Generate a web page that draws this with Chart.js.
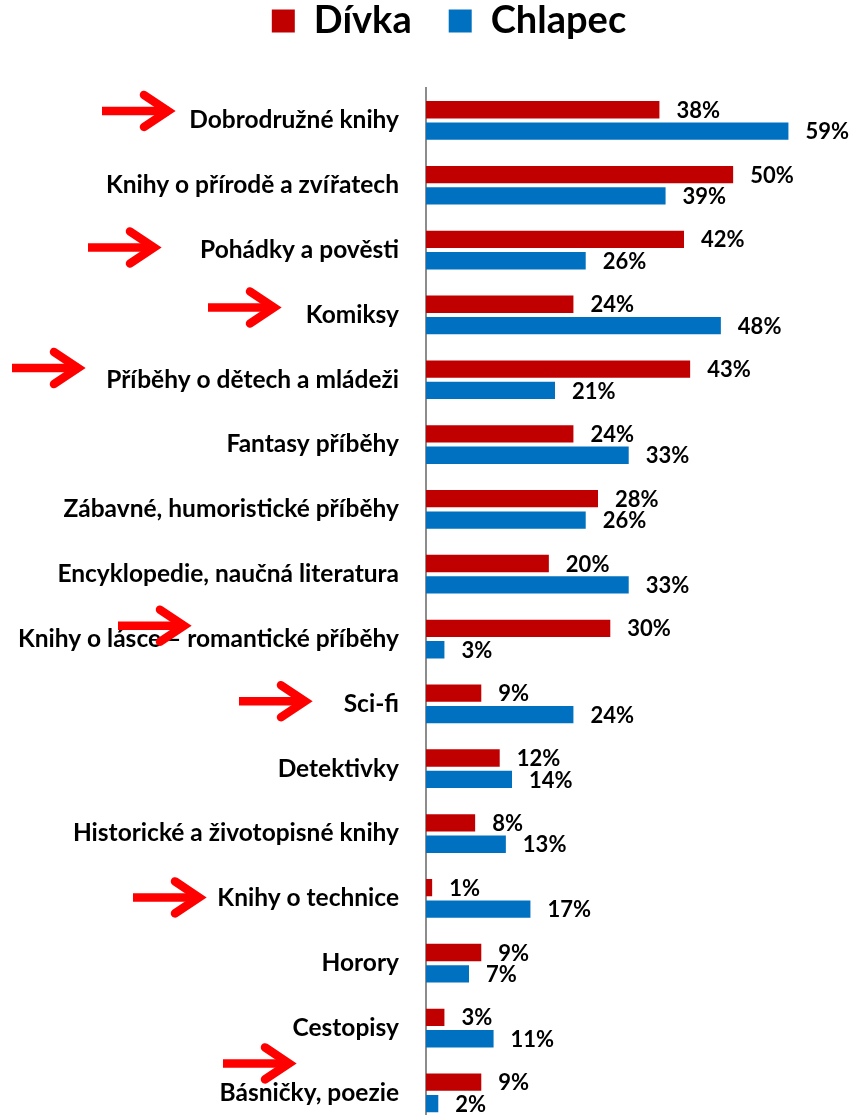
<!DOCTYPE html>
<html><head><meta charset="utf-8">
<script src="https://cdn.jsdelivr.net/npm/chart.js@4.4.1/dist/chart.umd.min.js"></script>
<style>html,body{margin:0;padding:0;background:#fff;overflow:hidden;width:856px;height:1115px}</style>
</head><body>
<div style="width:856px;height:1167px"><canvas id="c" width="856" height="1167"></canvas></div>
<script>
const categories = [
  'Dobrodružné knihy',
  'Knihy o přírodě a zvířatech',
  'Pohádky a pověsti',
  'Komiksy',
  'Příběhy o dětech a mládeži',
  'Fantasy příběhy',
  'Zábavné, humoristické příběhy',
  'Encyklopedie, naučná literatura',
  'Knihy o lásce – romantické příběhy',
  'Sci-fi',
  'Detektivky',
  'Historické a životopisné knihy',
  'Knihy o technice',
  'Horory',
  'Cestopisy',
  'Básničky, poezie'
];
const seriesNames = ['Dívka', 'Chlapec'];
const divka   = [38, 50, 42, 24, 43, 24, 28, 20, 30, 9, 12, 8, 1, 9, 3, 9];
const chlapec = [59, 39, 26, 48, 21, 33, 26, 33, 3, 24, 14, 13, 17, 7, 11, 2];

// highlight arrows (annotation): category index, tip x, vertical offset from category centre
const arrowCategories = [0, 2, 3, 4, 8, 9, 12, 15];
const arrowTipX = [177, 163, 283, 87, 193, 314, 208, 298];
const arrowDY = [-9.5, -2.6, -7.4, -11.7, -13.4, -2.7, -1, -29.5];

const FONT = 'Lato';
Chart.defaults.font.family = FONT;

const labelPlugin = {
  id: 'valueLabels',
  afterDatasetsDraw(chart) {
    const ctx = chart.ctx;
    ctx.save();
    ctx.font = 'bold 22px ' + FONT;
    ctx.fillStyle = '#000';
    ctx.textAlign = 'left';
    ctx.textBaseline = 'middle';
    chart.data.datasets.forEach((ds, di) => {
      const meta = chart.getDatasetMeta(di);
      meta.data.forEach((el, i) => {
        ctx.fillText(ds.data[i] + '%', el.x + 17, el.y + 1);
      });
    });
    ctx.restore();
  }
};

const arrowPlugin = {
  id: 'arrows',
  afterDraw(chart) {
    const ctx = chart.ctx;
    const ys = chart.scales.y;
    ctx.save();
    ctx.strokeStyle = '#FF0000';
    ctx.lineWidth = 8.5;
    arrowCategories.forEach((ci, k) => {
      const y = ys.getPixelForValue(ci) + arrowDY[k];
      const tip = arrowTipX[k];
      ctx.lineCap = 'butt';
      ctx.beginPath();
      ctx.moveTo(tip - 75, y);
      ctx.lineTo(tip - 8, y);
      ctx.stroke();
      ctx.lineCap = 'round';
      ctx.lineJoin = 'miter';
      ctx.beginPath();
      ctx.moveTo(tip - 33, y - 16);
      ctx.lineTo(tip - 9, y);
      ctx.lineTo(tip - 33, y + 16);
      ctx.stroke();
    });
    ctx.restore();
  }
};

// shift the legend slightly right of the canvas centre, as in the reference
const legendShift = {
  id: 'legendShift',
  afterLayout(chart) {
    if (chart.legend) { chart.legend.left += 21; chart.legend.right += 21; }
  }
};

new Chart(document.getElementById('c'), {
  type: 'bar',
  data: {
    labels: categories,
    datasets: [
      { label: seriesNames[0], data: divka, backgroundColor: '#C00000', borderWidth: 0, categoryPercentage: 0.66, barPercentage: 0.81 },
      { label: seriesNames[1], data: chlapec, backgroundColor: '#0070C0', borderWidth: 0, categoryPercentage: 0.66, barPercentage: 0.81 }
    ]
  },
  options: {
    indexAxis: 'y',
    responsive: false,
    animation: false,
    layout: { padding: { left: 0, right: 0, top: -35, bottom: 0 } },
    plugins: {
      legend: {
        position: 'top',
        labels: {
          boxWidth: 23, boxHeight: 23, padding: 37, color: '#000',
          font: { family: FONT, weight: 'bold', size: 38 }
        }
      },
      tooltip: { enabled: false }
    },
    scales: {
      x: {
        position: 'top', min: 0, max: 70,
        ticks: { display: false },
        grid: { display: false, drawTicks: false },
        border: { display: false },
        afterFit: s => { s.height = 38; }
      },
      y: {
        grid: { display: false, drawTicks: false },
        border: { display: true, color: '#8c8c8c', width: 2 },
        ticks: { color: '#000', padding: 27, autoSkip: false, font: { family: FONT, weight: 'bold', size: 24.5 } },
        afterFit: s => { s.width = 426; }
      }
    }
  },
  plugins: [labelPlugin, arrowPlugin, legendShift]
});
</script>
</body></html>
